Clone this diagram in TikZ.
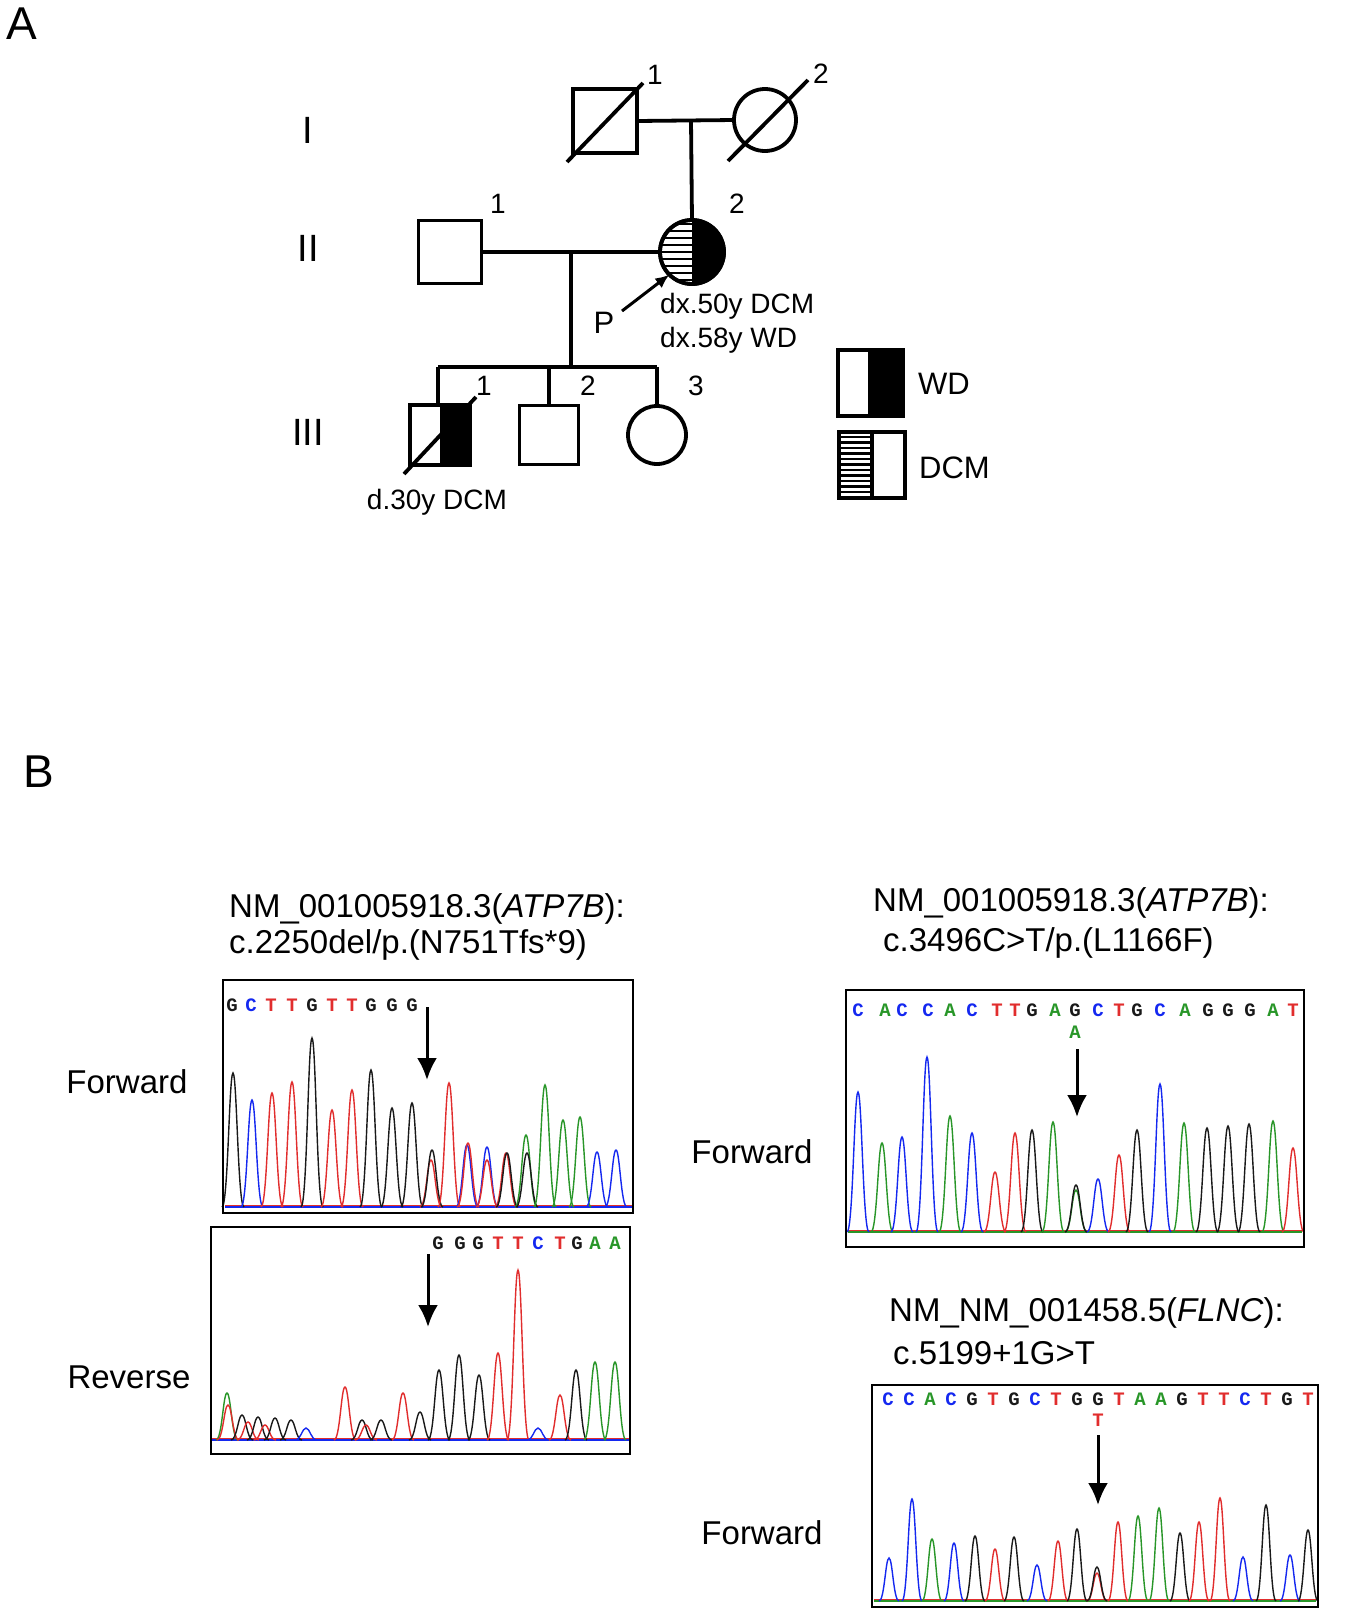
\documentclass[tikz,border=0pt]{standalone}
\usepackage{fontspec}
\setmainfont{Liberation Sans}
\newfontfamily\basefont{Liberation Mono}
\definecolor{tb}{RGB}{20,40,240}
\definecolor{tr}{RGB}{225,45,45}
\definecolor{tg}{RGB}{40,150,40}
\definecolor{tk}{RGB}{25,25,25}
\usetikzlibrary{arrows.meta}
\tikzset{
  ped/.style={line width=3.8pt,black},
  sq/.style={draw,line width=3.8pt,minimum size=#1,inner sep=0pt,outer sep=0pt},
  ci/.style={draw,circle,line width=3.8pt,minimum size=#1,inner sep=0pt,outer sep=0pt},
  lab/.style={font=\fontsize{33}{36}\selectfont,inner sep=0pt},
  plab/.style={font=\fontsize{28}{30}\selectfont,inner sep=0pt},
  llab/.style={font=\fontsize{31}{33}\selectfont,inner sep=0pt},
  num/.style={font=\fontsize{28}{30}\selectfont,inner sep=0pt},
  gen/.style={font=\fontsize{38}{40}\selectfont,inner sep=0pt},
  pan/.style={font=\fontsize{46}{48}\selectfont,inner sep=0pt},
  box/.style={draw,line width=2.5pt},
  trace/.style={line width=1.4pt},
  bs/.style={font=\basefont\bfseries\fontsize{19}{20}\selectfont,inner sep=0pt},
  varrow/.style={-{Latex[length=22pt,width=20pt]},line width=3pt},
}
\def\hw{11}
\def\pk#1#2#3{\draw[trace,#1] ({#2-\hw},\bl) .. controls ({#2-0.45*\hw},\bl) and ({#2-0.35*\hw},#3) .. (#2,#3) .. controls ({#2+0.35*\hw},#3) and ({#2+0.45*\hw},\bl) .. ({#2+\hw},\bl);}
\begin{document}
\begin{tikzpicture}[x=1pt,y=-1pt]
\useasboundingbox (0,0) rectangle (1350,1610);
\fill[white] (0,0) rectangle (1350,1610);
% ---------- Panel A ----------
\node[pan] (pA) at (22,24) {A};
\node[gen] (gI) at (308,130) {I};
\node[gen] (gII) at (308,248) {II};
\node[gen] (gIII) at (308,432) {III};
% generation I
\node[sq=64pt] (I1) at (605,121) {};
\node[ci=62pt] (I2) at (765,120) {};
\draw[ped] (567,162) -- (643,83);
\draw[ped] (728,161) -- (808,80);
\node[num] (nI1) at (655,75) {1};
\node[num] (nI2) at (821,74) {2};
\draw[ped] (I1.east) -- (I2.west);
\coordinate (dI) at (691,120);
% generation II
\node[sq=63pt] (II1) at (450,252) {};
\node[ci=64pt] (II2) at (692,252) {};
\begin{scope}
  \clip (692,252) circle (32);
  \fill[black] (692,218) rectangle (726,286);
  \foreach \yy in {224,231,...,284} \draw[line width=2.6pt] (658,\yy) -- (692,\yy);
\end{scope}
\draw[line width=3.8pt] (692,252) circle (32);
\draw[ped] (dI) -- (II2.north);
\draw[ped] (II1.east) -- (II2.west);
\node[num] (nII1) at (498,204) {1};
\node[num] (nII2) at (737,204) {2};
\coordinate (Ptail) at (622,311);
\draw[-{Latex[length=14pt,width=12pt]},line width=3pt] (Ptail) -- (II2.225);
\node[llab] (Pl) at (604,323) {P};
\node[plab,anchor=west] (dx1) at (660,306) {dx.50y DCM};
\node[plab,anchor=west] (dx2) at (660,340) {dx.58y WD};
% generation III
\coordinate (dII) at (571,252);
\coordinate (sib) at (571,367);
\draw[ped] (dII) -- (sib);
\draw[ped] (438,367) -- (657,367);
\node[sq=60pt] (III1) at (440,435) {};
\fill[black] (440,405) rectangle (469,465);
\node[sq=60pt] at (III1) {};
\draw[ped] (404,474) -- (476,397);
\node[sq=59pt] (III2) at (549,435) {};
\node[ci=58pt] (III3) at (657,435) {};
\draw[ped] (438,367) -- (438,405);
\draw[ped] (549,367) -- (III2.north);
\draw[ped] (657,367) -- (III3.north);
\node[num] (nIII1) at (484,386) {1};
\node[num] (nIII2) at (588,386) {2};
\node[num] (nIII3) at (696,386) {3};
\node[plab] (d30) at (437,502) {d.30y DCM};
% legend
\fill[black] (868,350) rectangle (903,416);
\draw[line width=3.2pt] (838,350) rectangle (903,416);
\begin{scope}
  \clip (839,432) rectangle (872,498);
  \foreach \yy in {437,442.5,...,496} \draw[line width=2.4pt] (839,\yy) -- (872,\yy);
\end{scope}
\draw[line width=3.2pt] (872,432) -- (872,498);
\draw[line width=3.2pt] (839,432) rectangle (905,498);
\node[llab,anchor=west] (lWD) at (918,384) {WD};
\node[llab,anchor=west] (lDCM) at (919,468) {DCM};
% ---------- Panel B ----------
\node[pan] (pB) at (39,772) {B};
\node[lab,anchor=west] (t1a) at (229,909) {NM\_001005918.3(\textit{ATP7B}):};
\node[lab,anchor=west] (t1b) at (229,945) {c.2250del/p.(N751Tfs*9)};
\node[lab,anchor=west] (t2a) at (873,903) {NM\_001005918.3(\textit{ATP7B}):};
\node[lab,anchor=west] (t2b) at (883,943) {c.3496C>T/p.(L1166F)};
\node[lab,anchor=west] (t3a) at (889,1313) {NM\_NM\_001458.5(\textit{FLNC}):};
\node[lab,anchor=west] (t3b) at (893,1353) {c.5199+1G>T};
\node[lab] (f1) at (127,1082) {Forward};
\node[lab] (r1) at (129,1377) {Reverse};
\node[lab] (f2) at (752,1152) {Forward};
\node[lab] (f3) at (762,1533) {Forward};
% box 1
\def\bl{1207}
\draw[trace,tb] (225,\bl) -- (632,\bl);
\draw[trace,tr] (225,\bl-1.5) -- (632,\bl-1.5);
\pk{tk}{233}{1073}\pk{tb}{252}{1100}\pk{tr}{272}{1093}\pk{tr}{292}{1082}
\pk{tk}{312}{1038}\pk{tr}{332}{1110}\pk{tr}{352}{1090}\pk{tk}{371}{1070}
\pk{tk}{392}{1108}\pk{tk}{412}{1103}\pk{tr}{431}{1160}\pk{tk}{432}{1150}
\pk{tr}{449}{1083}\pk{tb}{467}{1145}\pk{tr}{468}{1143}\pk{tb}{487}{1147}
\pk{tr}{487}{1160}\pk{tr}{506}{1153}\pk{tk}{507}{1153}\pk{tg}{526}{1135}
\pk{tk}{527}{1153}\pk{tg}{545}{1085}\pk{tg}{563}{1120}\pk{tg}{580}{1117}
\pk{tb}{597}{1152}\pk{tb}{616}{1150}
\draw[box] (223,980) rectangle (633,1213);
\foreach \xx/\bb/\cc [count=\i] in {232/G/tk,251/C/tb,271/T/tr,292/T/tr,312/G/tk,332/T/tr,352/T/tr,371/G/tk,392/G/tk,412/G/tk}
  \node[bs,text=\cc] (a\i) at (\xx,1005) {\bb};
\coordinate (ar1) at (427,1007);
\coordinate (ar1e) at (427,1080);
\draw[varrow] (ar1) -- (ar1e);
% box 2
\def\bl{1440}
\draw[trace,tb] (212,\bl) -- (629,\bl);
\draw[trace,tr] (212,\bl-1.5) -- (629,\bl-1.5);
\pk{tg}{227}{1393}\pk{tr}{228}{1405}\pk{tk}{242}{1415}\pk{tr}{248}{1422}\pk{tk}{258}{1417}
\pk{tr}{265}{1425}\pk{tk}{275}{1418}\pk{tk}{291}{1420}\pk{tb}{306}{1428}\pk{tr}{345}{1387}
\pk{tk}{362}{1420}\pk{tr}{366}{1425}\pk{tk}{381}{1420}\pk{tr}{403}{1393}\pk{tk}{420}{1412}
\pk{tk}{439}{1370}\pk{tk}{459}{1355}\pk{tk}{479}{1375}\pk{tr}{498}{1353}\pk{tr}{518}{1270}
\pk{tb}{538}{1428}\pk{tr}{560}{1395}\pk{tk}{576}{1370}\pk{tg}{595}{1362}\pk{tg}{615}{1362}
\draw[box] (211,1227) rectangle (630,1454);
\foreach \xx/\bb/\cc [count=\i] in {438/G/tk,460/G/tk,478/G/tk,498/T/tr,518/T/tr,538/C/tb,560/T/tr,577/G/tk,595/A/tg,615/A/tg}
  \node[bs,text=\cc] (b\i) at (\xx,1243) {\bb};
\coordinate (ar2) at (428,1254);
\coordinate (ar2e) at (428,1327);
\draw[varrow] (ar2) -- (ar2e);
% box 3
\def\bl{1232}
\draw[trace,tr] (848,\bl-1.5) -- (1302,\bl-1.5);
\draw[trace,tg] (848,\bl) -- (1302,\bl);
\pk{tb}{858}{1092}\pk{tg}{882}{1143}\pk{tb}{902}{1137}\pk{tb}{927}{1057}
\pk{tg}{950}{1116}\pk{tb}{972}{1133}\pk{tr}{995}{1172}\pk{tr}{1015}{1133}
\pk{tk}{1032}{1130}\pk{tg}{1053}{1122}\pk{tg}{1076}{1190}\pk{tk}{1076}{1185}
\pk{tb}{1098}{1179}\pk{tr}{1119}{1155}\pk{tk}{1137}{1130}\pk{tb}{1160}{1084}
\pk{tg}{1184}{1123}\pk{tk}{1207}{1128}\pk{tk}{1228}{1126}\pk{tk}{1249}{1124}
\pk{tg}{1273}{1121}\pk{tr}{1293}{1148}
\draw[box] (846,990) rectangle (1304,1247);
\foreach \xx/\bb/\cc [count=\i] in {858/C/tb,885/A/tg,902/C/tb,928/C/tb,950/A/tg,972/C/tb,997/T/tr,1015/T/tr,1032/G/tk,1055/A/tg,1075/G/tk,1098/C/tb,1119/T/tr,1137/G/tk,1160/C/tb,1185/A/tg,1208/G/tk,1228/G/tk,1250/G/tk,1273/A/tg,1293/T/tr}
  \node[bs,text=\cc] (c\i) at (\xx,1010) {\bb};
\node[bs,text=tg] (cA) at (1075,1032) {A};
\coordinate (ar3) at (1077,1049);
\coordinate (ar3e) at (1077,1117);
\draw[varrow] (ar3) -- (ar3e);
% box 4
\def\bl{1601}
\def\hw{10}
\draw[trace,tg] (874,\bl) -- (1316,\bl);
\draw[trace,tr] (874,\bl-1.5) -- (1316,\bl-1.5);
\pk{tb}{889}{1558}\pk{tb}{912}{1499}\pk{tg}{932}{1539}\pk{tb}{954}{1543}
\pk{tk}{975}{1536}\pk{tr}{995}{1549}\pk{tk}{1014}{1537}\pk{tb}{1037}{1565}
\pk{tr}{1058}{1541}\pk{tk}{1077}{1529}\pk{tr}{1097}{1573}\pk{tk}{1097}{1567}
\pk{tr}{1118}{1522}\pk{tg}{1138}{1516}\pk{tg}{1159}{1508}\pk{tk}{1180}{1533}
\pk{tr}{1199}{1522}\pk{tr}{1220}{1498}\pk{tb}{1243}{1557}\pk{tk}{1266}{1505}
\pk{tb}{1290}{1555}\pk{tk}{1308}{1530}
\draw[box] (872,1385) rectangle (1318,1607);
\foreach \xx/\bb/\cc [count=\i] in {888/C/tb,909/C/tb,930/A/tg,951/C/tb,972/G/tk,993/T/tr,1014/G/tk,1035/C/tb,1056/T/tr,1077/G/tk,1098/G/tk,1119/T/tr,1140/A/tg,1161/A/tg,1182/G/tk,1203/T/tr,1224/T/tr,1245/C/tb,1266/T/tr,1287/G/tk,1308/T/tr}
  \node[bs,text=\cc] (e\i) at (\xx,1399) {\bb};
\node[bs,text=tr] (eT) at (1098,1420) {T};
\coordinate (ar4) at (1098,1435);
\coordinate (ar4e) at (1098,1505);
\draw[varrow] (ar4) -- (ar4e);
\end{tikzpicture}
\end{document}
